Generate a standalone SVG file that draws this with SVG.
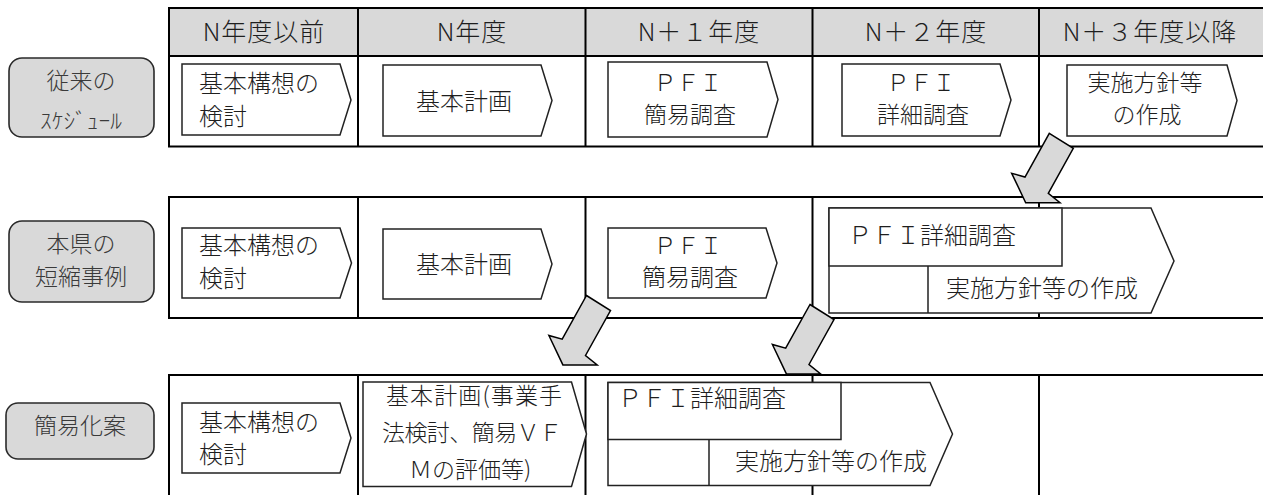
<svg xmlns="http://www.w3.org/2000/svg" xmlns:xlink="http://www.w3.org/1999/xlink" width="1263" height="495" viewBox="0 0 1263 495">
<style>
  text { font-family: "Noto Sans CJK JP", "Noto Sans", sans-serif; fill: #1e1e1e; font-weight: 300; }
  .hdr { font-size: 25px; text-anchor: middle; letter-spacing: 1px; }
  .bx { font-size: 24px; }
  .two { font-size: 23px; }
  .mid { text-anchor: middle; }
  .lbl { font-size: 23px; text-anchor: middle; fill: #3a3a3a; }
  .tbl { fill: none; stroke: #000; stroke-width: 2; }
  .hfill { fill: #d9d9d9; stroke: none; }
  .box { fill: #fff; stroke: #222; stroke-width: 1.5; }
  .lab { fill: #d9d9d9; stroke: #2a2a2a; stroke-width: 1.6; }
  .arr { fill: #d9d9d9; stroke: #000; stroke-width: 1.5; stroke-linejoin: miter; }
</style>
<defs>
  <polygon id="blockArrow" points="-24,-15 0,0 -25,45 -13.3,54.4 -47.6,54.4 -61.6,25 -48.3,28.7"/>
</defs>
<rect width="1263" height="495" fill="#fff"/>

<!-- tables -->
<g id="table1">
  <rect class="hfill" x="169" y="8" width="1100" height="48"/>
  <path class="tbl" d="M1270,8 H169 V146.5 H1270 M169,56 H1270 M358,8 V146.5 M585.5,8 V146.5 M812.5,8 V146.5 M1039,8 V146.5"/>
  <text class="hdr" x="264" y="41">N年度以前</text>
  <text class="hdr" x="472" y="41">N年度</text>
  <text class="hdr" x="699" y="41">N＋１年度</text>
  <text class="hdr" x="926" y="41">N＋２年度</text>
  <text class="hdr" x="1150" y="41">N＋３年度以降</text>
</g>
<g id="table2">
  <path class="tbl" d="M1270,197 H169 V318 H1270 M358,197 V318 M585.5,197 V318 M812.5,197 V318 M1039,197 V318"/>
</g>
<g id="table3">
  <path class="tbl" d="M1270,375 H169 V500 M358,375 V500 M585.5,375 V500 M812.5,375 V500 M1039,375 V500"/>
</g>

<!-- row labels -->
<g id="label-conventional">
  <rect class="lab" x="9" y="58" width="145" height="79" rx="13"/>
  <text class="lbl" x="81" y="89">従来の</text>
  <text class="lbl" x="81" y="128" style="font-size:21px" textLength="82" lengthAdjust="spacingAndGlyphs">ｽｹｼﾞｭｰﾙ</text>
</g>
<g id="label-shortened">
  <rect class="lab" x="9" y="221" width="145" height="81" rx="13"/>
  <text class="lbl" x="81" y="252">本県の</text>
  <text class="lbl" x="81" y="285">短縮事例</text>
</g>
<g id="label-simplified">
  <rect class="lab" x="6" y="403" width="148" height="56" rx="12"/>
  <text class="lbl" x="80" y="434">簡易化案</text>
</g>

<!-- row 1 -->
<g id="r1-kihonkoso">
  <path class="box" d="M182,64 H340 L351,100 L340,135 H182 Z"/>
  <text class="bx" x="199" y="92">基本構想の</text>
  <text class="bx" x="199" y="125">検討</text>
</g>
<g id="r1-kihonkeikaku">
  <path class="box" d="M383,65 H541 L552,100.5 L541,136 H383 Z"/>
  <text class="bx mid" x="464" y="110">基本計画</text>
</g>
<g id="r1-pfi-kani">
  <path class="box" d="M608,62 H767 L778,99.5 L767,137 H608 Z"/>
  <text class="bx two mid" x="688" y="91">ＰＦＩ</text>
  <text class="bx two mid" x="690" y="123">簡易調査</text>
</g>
<g id="r1-pfi-shosai">
  <path class="box" d="M842,64 H1000 L1011,100 L1000,136 H842 Z"/>
  <text class="bx two mid" x="921" y="91">ＰＦＩ</text>
  <text class="bx two mid" x="923" y="123">詳細調査</text>
</g>
<g id="r1-jisshi">
  <path class="box" d="M1067,65 H1227 L1237,100.5 L1227,136 H1067 Z"/>
  <text class="bx two mid" x="1145" y="91">実施方針等</text>
  <text class="bx two mid" x="1147" y="123">の作成</text>
</g>

<!-- row 2 -->
<g id="r2-kihonkoso">
  <path class="box" d="M182,228 H340 L351.5,263 L340,298 H182 Z"/>
  <text class="bx" x="199" y="254">基本構想の</text>
  <text class="bx" x="199" y="287">検討</text>
</g>
<g id="r2-kihonkeikaku">
  <path class="box" d="M383,229 H541 L552,264 L541,299 H383 Z"/>
  <text class="bx mid" x="464" y="273">基本計画</text>
</g>
<g id="r2-pfi-kani">
  <path class="box" d="M608,228 H766 L777,263 L766,298 H608 Z"/>
  <text class="bx two mid" x="688" y="254">ＰＦＩ</text>
  <text class="bx mid" x="690" y="286">簡易調査</text>
</g>
<g id="r2-pfi-jisshi">
  <path class="box" d="M829,208 H1151 L1174,261 L1151,313 H829 Z"/>
  <path class="box" d="M829,208 H1062 V266 H829 Z M928,266 V313"/>
  <text class="bx" x="848" y="244">ＰＦＩ詳細調査</text>
  <text class="bx" x="946" y="297">実施方針等の作成</text>
</g>

<!-- row 3 -->
<g id="r3-kihonkoso">
  <path class="box" d="M182,403 H340 L351,438 L340,473 H182 Z"/>
  <text class="bx" x="199" y="431">基本構想の</text>
  <text class="bx" x="199" y="463">検討</text>
</g>
<g id="r3-kihonkeikaku">
  <path class="box" d="M363,382 H571.5 L586.5,434 L571.5,486.5 H363 Z"/>
  <text class="bx mid" x="474" y="404" style="font-size:23px" textLength="176" lengthAdjust="spacing">基本計画(事業手</text>
  <text class="bx mid" x="472" y="441" style="font-size:23px" textLength="180" lengthAdjust="spacing">法検討、簡易ＶＦ</text>
  <text class="bx mid" x="470" y="478" style="font-size:23px">Ｍの評価等)</text>
</g>
<g id="r3-pfi-jisshi">
  <path class="box" d="M608,382.5 H930 L952.5,434 L930,485.5 H608 Z"/>
  <path class="box" d="M608,382.5 H841 V439.5 H608 Z M709,439.5 V485.5"/>
  <text class="bx" x="618" y="407">ＰＦＩ詳細調査</text>
  <text class="bx" x="735" y="470">実施方針等の作成</text>
</g>

<!-- connectors -->
<g id="connectors">
  <use xlink:href="#blockArrow" class="arr" transform="translate(1073.3,148.3)"/>
  <use xlink:href="#blockArrow" class="arr" transform="translate(610.5,310.5)"/>
  <use xlink:href="#blockArrow" class="arr" transform="translate(834,319.5)"/>
</g>
</svg>
